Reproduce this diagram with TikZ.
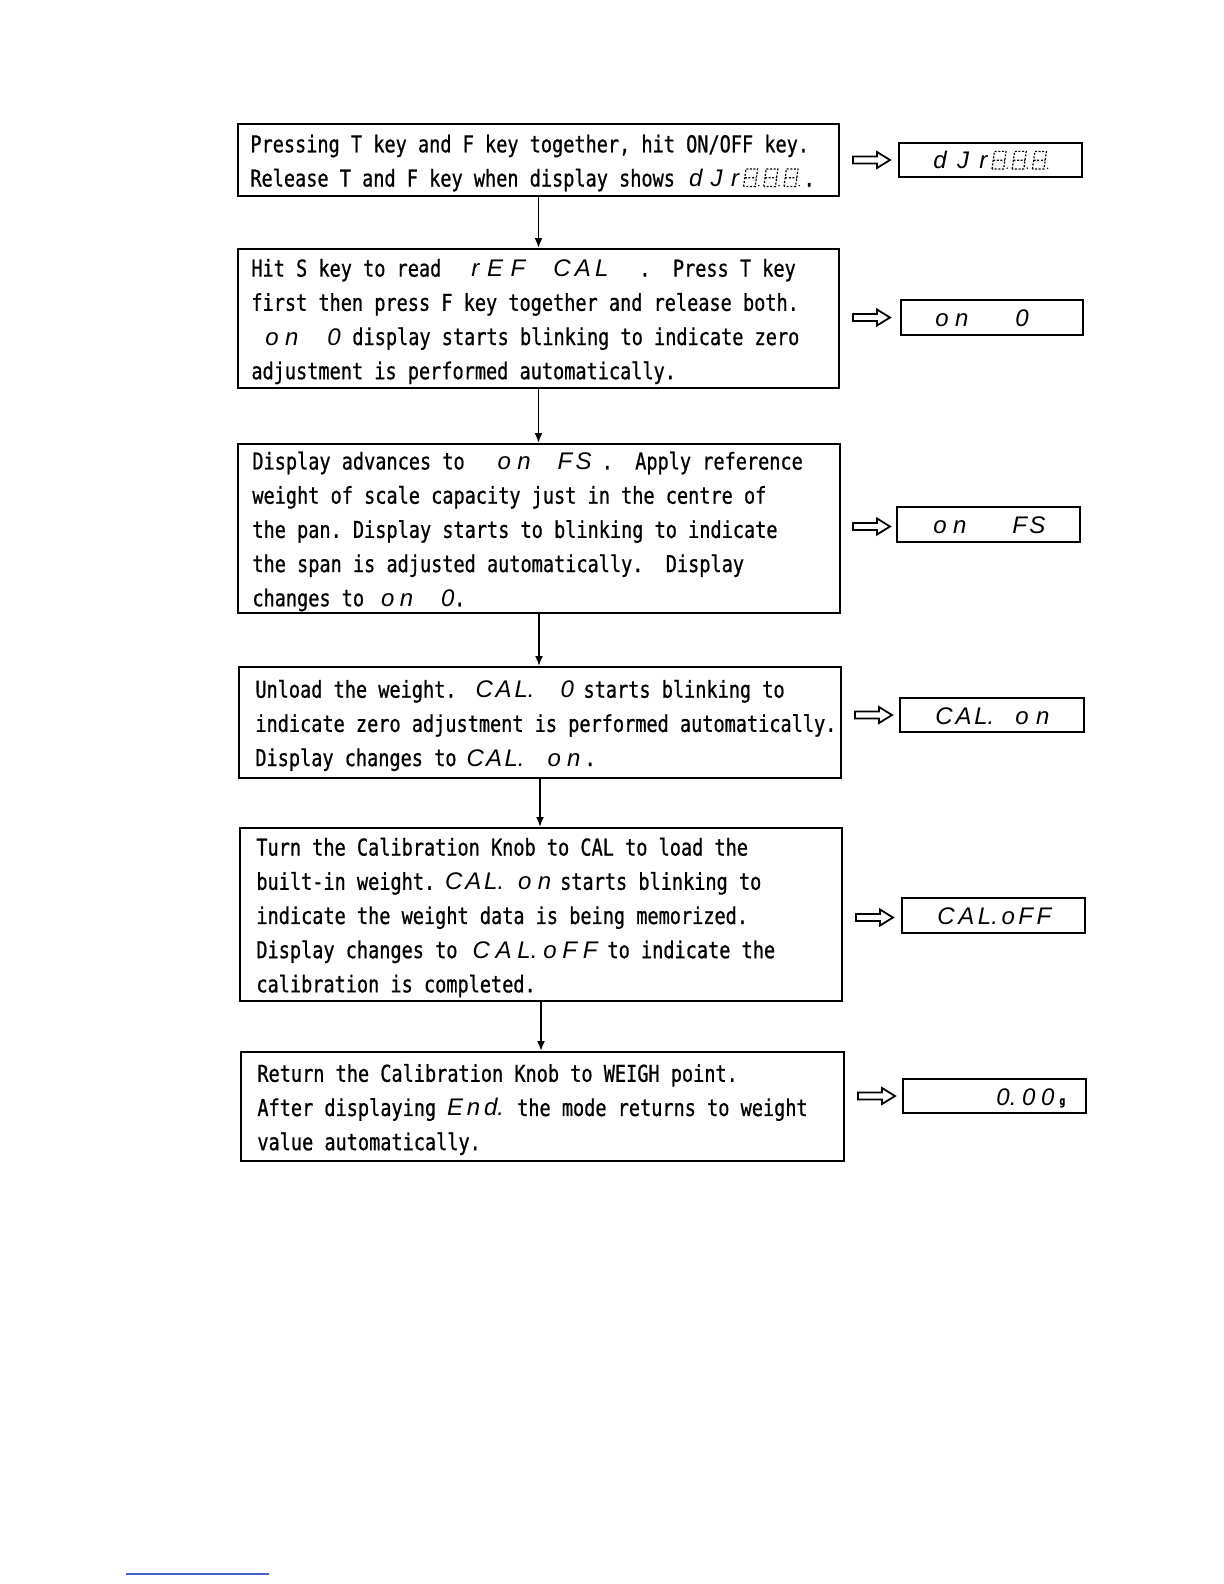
\documentclass[tikz,border=0pt]{standalone}
\usepackage{fontspec}
\setmainfont{DejaVu Sans Mono}[FakeStretch=0.8,FakeBold=0.8]
\newfontfamily\segfont{Liberation Sans}
\usetikzlibrary{arrows.meta,fit,calc}
\newdimen\pxu \pxu=0.5pt
\frenchspacing
\newcommand\sg[2]{\makebox[#1\pxu][s]{\segfont\itshape\fontsize{12}{12}\selectfont #2}}
\newcommand\sgl[2]{\makebox[#1\pxu][l]{\segfont\itshape\fontsize{12}{12}\selectfont #2}}
\newcommand\blankdig{\tikz[baseline=0pt,x=1pt,y=1pt]{\draw[line width=0.6pt,dash pattern=on 1pt off 0.8pt] (0,0) -- (1.2,8.8) -- (7,8.8) -- (5.8,0) -- cycle (0.6,4.4) -- (6.4,4.4); \fill (7.6,0.4) circle (0.4pt); \path (0,0) -- (9.8,0);}}
\newcommand\harrow[1]{\draw[hollow] ($(#1)+(0,-3.5)$) -- ++(24,0) -- ++(0,-4.5) -- ++(13,8) -- ++(-13,8) -- ++(0,-4.5) -- ++(-24,0) -- cycle;}
\begin{document}
\begin{tikzpicture}[x=0.5pt,y=-0.5pt,
  stepbox/.style={draw, line width=1pt, inner sep=0pt},
  dispbox/.style={draw, line width=1pt, inner sep=0pt},
  steptext/.style={anchor=west, inner sep=0pt, align=left, font=\fontsize{11.6}{17.1}\selectfont},
  segtext/.style={anchor=base west, inner sep=0pt},
  flow/.style={line width=0.9pt, -{Latex[length=5pt,width=4pt]}},
  hollow/.style={line width=0.9pt, line join=miter}]
\fill[white] (0,0) rectangle (1224,1584);
\useasboundingbox (0,0) rectangle (1224,1584);

% step boxes
\node[stepbox, fit={(238,124) (839,196)}] (b1) {};
\node[stepbox, fit={(238,249) (839,388)}] (b2) {};
\node[stepbox, fit={(238,444) (840,613)}] (b3) {};
\node[stepbox, fit={(239,667) (841,778)}] (b4) {};
\node[stepbox, fit={(240,828) (842,1001)}] (b5) {};
\node[stepbox, fit={(241,1052) (844,1161)}] (b6) {};

% display boxes
\node[dispbox, fit={(899,143) (1082,177)}] (d1) {};
\node[dispbox, fit={(901,300) (1083,335)}] (d2) {};
\node[dispbox, fit={(897,507) (1080,542)}] (d3) {};
\node[dispbox, fit={(900,698) (1084,732)}] (d4) {};
\node[dispbox, fit={(902,898) (1085,933)}] (d5) {};
\node[dispbox, fit={(903,1079) (1086,1113)}] (d6) {};

% step texts
\node[steptext] (t1) at ($(b1.west)+(13,3)$) {Pressing T key and F key together, hit ON/OFF key.\\
Release T and F key when display shows\hspace*{14\pxu}\sg{50}{d\hfill J\hfill r}\hspace*{4\pxu}\blankdig\blankdig\blankdig.};

\node[steptext] (t2) at ($(b2.west)+(14,3)$) {Hit S key to read\hspace*{30\pxu}\sg{54}{r\hfill E\hfill F}\hspace*{28\pxu}\sg{55}{C\hfill A\hfill L}\hspace*{31\pxu}.~~Press T key\\
first then press F key together and release both.\\
\hspace*{14\pxu}\sg{33}{o\hfill n}\hspace*{29\pxu}\sgl{25}{0}display starts blinking to indicate zero\\
adjustment is performed automatically.};

\node[steptext] (t3) at ($(b3.west)+(15,3)$) {Display advances to\hspace*{33\pxu}\sg{33}{o\hfill n}\hspace*{27\pxu}\sg{34}{F\hfill S}\hspace*{10\pxu}.~~Apply reference\\
weight of scale capacity just in the centre of\\
the pan. Display starts to blinking to indicate\\
the span is adjusted automatically.~~Display\\
changes to\hspace*{17\pxu}\sg{32}{o\hfill n}\hspace*{28\pxu}\sgl{13}{0}.};

\node[steptext] (t4) at ($(b4.west)+(17,3)$) {Unload the weight.\hspace*{19\pxu}\sg{59}{C\hfill A\hfill L.}\hspace*{26\pxu}\sgl{23}{0}starts blinking to\\
indicate zero adjustment is performed automatically.\\
Display changes to\hspace*{10\pxu}\sg{58}{C\hfill A\hfill L.}\hspace*{23\pxu}\sg{33}{o\hfill n}\hspace*{4\pxu}.};

\node[steptext] (t5) at ($(b5.west)+(17,3)$) {Turn the Calibration Knob to CAL to load the\\
built-in weight.\hspace*{10\pxu}\sg{59}{C\hfill A\hfill L.}\hspace*{14\pxu}\sg{33}{o\hfill n}\hspace*{9\pxu}starts blinking to\\
indicate the weight data is being memorized.\\
Display changes to\hspace*{15\pxu}\sg{125}{C\hfill A\hfill L.\hfill o\hfill F\hfill F}\hspace*{10\pxu}to indicate the\\
calibration is completed.};

\node[steptext] (t6) at ($(b6.west)+(17,3)$) {Return the Calibration Knob to WEIGH point.\\
After displaying\hspace*{11\pxu}\sg{57}{E\hfill n\hfill d.}\hspace*{13\pxu}the mode returns to weight\\
value automatically.};

% display texts
\node[segtext] (dt1) at ($(d1.west)+(35,9)$) {\sg{54}{d\hfill J\hfill r}\hspace*{4\pxu}\blankdig\blankdig\blankdig};
\node[segtext] (dt2) at ($(d2.west)+(35,9)$) {\sg{33}{o\hfill n}\hspace*{47\pxu}\sgl{14}{0}};
\node[segtext] (dt3) at ($(d3.west)+(37,9)$) {\sg{33}{o\hfill n}\hspace*{46\pxu}\sg{33}{F\hfill S}};
\node[segtext] (dt4) at ($(d4.west)+(36,9)$) {\sg{59}{C\hfill A\hfill L.}\hspace*{21\pxu}\sg{34}{o\hfill n}};
\node[segtext] (dt5) at ($(d5.west)+(36,9)$) {\sg{114}{C\hfill A\hfill L.\hfill o\hfill F\hfill F}};
\node[segtext] (dt6) at ($(d6.west)+(94,9)$) {\sg{58}{0.\hfill 0\hfill 0}\hspace*{5\pxu}{\fontsize{6}{6}\selectfont\bfseries g}};

% flow connectors
\draw[flow] (b1.south) -- (b1.south |- b2.north);
\draw[flow] (b2.south) -- (b2.south |- b3.north);
\draw[flow] (b3.south) -- (b3.south |- b4.north);
\draw[flow] (b4.south) -- (b4.south |- b5.north);
\draw[flow] (b5.south) -- (b5.south |- b6.north);

% hollow arrows
\coordinate (h1) at ($(b1.east |- d1.west)+(13,0)$);
\coordinate (h2) at ($(b2.east |- d2.west)+(13,0)$);
\coordinate (h3) at ($(b3.east |- d3.west)+(12,2)$);
\coordinate (h4) at ($(b4.east |- d4.west)+(13,0)$);
\coordinate (h5) at ($(b5.east |- d5.west)+(13,2)$);
\coordinate (h6) at ($(b6.east |- d6.west)+(13,0)$);
\harrow{h1}\harrow{h2}\harrow{h3}\harrow{h4}\harrow{h5}\harrow{h6}

% footnote rule
\draw[line width=0.6pt, color={rgb,255:red,70;green,100;blue,200}] (126,1574) -- (269,1574);
\end{tikzpicture}
\end{document}
